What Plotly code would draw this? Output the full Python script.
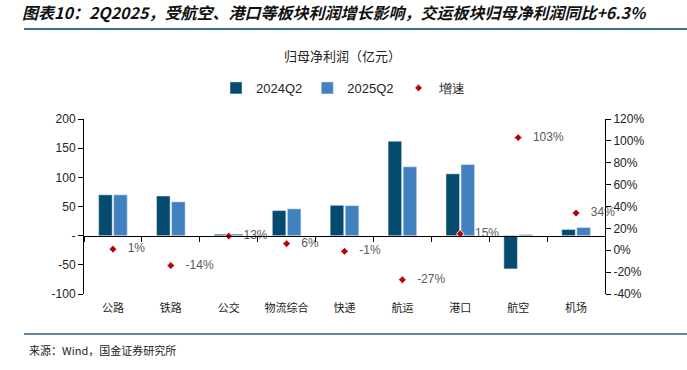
import plotly.graph_objects as go

categories = ["公路", "铁路", "公交", "物流综合", "快递", "航运", "港口", "航空", "机场"]
profit_2024q2 = [70, 68, 2.5, 43, 52, 162, 106, -57, 10.5]
profit_2025q2 = [70, 58, 2.8, 46, 51.5, 118, 122, 2, 14]
growth_pct = [1, -14, 13, 6, -1, -27, 15, 103, 34]
left_ticks = [-100, -50, 0, 50, 100, 150, 200]
left_ticktext = ["-100", "-50", "-", "50", "100", "150", "200"]
right_ticks = [-40, -20, 0, 20, 40, 60, 80, 100, 120]

W, H = 687, 370
L, R, T, B = 84, 605, 119, 294  # plot area pixels
def px_x(x):
    return (x - L) / (R - L)
def px_y(y):
    return (B - y) / (B - T)

C1 = "#054B70"
C2 = "#4281BF"
CJK = "Noto Sans CJK SC"
LAT = "Liberation Sans, Arial"

fig = go.Figure()
fig.add_trace(go.Bar(x=categories, y=profit_2024q2, name="2024Q2", marker_color=C1,
                     xaxis="x", yaxis="y"))
fig.add_trace(go.Bar(x=categories, y=profit_2025q2, name="2025Q2", marker_color=C2,
                     xaxis="x", yaxis="y"))
fig.add_trace(go.Scatter(x=categories, y=growth_pct, name="增速", mode="markers+text",
                         marker=dict(symbol="diamond", size=6, color="#C00000",
                                     line=dict(color="#E8ECF4", width=1)),
                         text=["   %d%%" % v for v in growth_pct],
                         textposition="middle right", cliponaxis=False,
                         textfont=dict(family=LAT, size=12, color="#595959"),
                         xaxis="x2", yaxis="y2"))

fig.update_layout(
    width=W, height=H,
    margin=dict(l=L, r=W - R, t=T, b=H - B, autoexpand=False),
    paper_bgcolor="white", plot_bgcolor="white",
    barmode="group", bargap=0.48, bargroupgap=0.1,
    showlegend=True,
    legend=dict(orientation="h", xref="container", yref="container",
                x=0.50, xanchor="center", y=1 - 88 / H, yanchor="middle",
                font=dict(family=LAT, size=13, color="#222"),
                itemwidth=30, traceorder="normal", tracegroupgap=0),
    title=dict(text="<b><i>图表10：2Q2025，受航空、港口等板块利润增长影响，交运板块归母净利润同比+6.3%</i></b>",
               xref="container", yref="container", x=22 / W, xanchor="left",
               y=1 - 13 / H, yanchor="middle",
               font=dict(family=CJK, size=16, color="#111")),
    xaxis=dict(type="category", categoryarray=categories, anchor="free", position=1 / 3,
               showline=True, linecolor="black", linewidth=1, ticks="outside",
               tickson="boundaries", ticklen=5, tickcolor="black",
               showticklabels=False, showgrid=False, zeroline=False),
    xaxis2=dict(type="category", categoryarray=categories, overlaying="x", anchor="y2",
                side="bottom", showline=False, ticks="", showgrid=False, zeroline=False,
                range=[-0.5, len(categories) - 0.5],
                tickfont=dict(family=CJK, size=11, color="#222"), ticklabelstandoff=6),
    yaxis=dict(range=[-100, 200], tickvals=left_ticks, ticktext=left_ticktext,
               showline=True, linecolor="black", linewidth=1, ticks="outside",
               ticklen=5, tickcolor="black", showgrid=False, zeroline=False,
               tickfont=dict(family=LAT, size=12, color="#222")),
    yaxis2=dict(range=[-40, 120], tickvals=right_ticks,
                ticktext=["%d%%" % v for v in right_ticks],
                overlaying="y", side="right", anchor="x",
                showline=True, linecolor="black", linewidth=1, ticks="outside",
                ticklen=5, tickcolor="black", showgrid=False, zeroline=False,
                tickfont=dict(family=LAT, size=12, color="#222")),
    shapes=[
        dict(type="line", xref="paper", yref="paper", x0=px_x(24), x1=px_x(687),
             y0=px_y(29), y1=px_y(29), line=dict(color="#3B6E8F", width=2)),
        dict(type="line", xref="paper", yref="paper", x0=px_x(24), x1=px_x(687),
             y0=px_y(334), y1=px_y(334), line=dict(color="#2F5F80", width=1.5)),
    ],
    annotations=[
        dict(text="归母净利润（亿元）", xref="paper", yref="paper", x=px_x(342), y=px_y(55),
             xanchor="center", yanchor="middle", showarrow=False,
             font=dict(family=CJK, size=13, color="#222")),
        dict(text="来源：Wind，国金证券研究所", xref="paper", yref="paper", x=px_x(27),
             y=px_y(350), xanchor="left", yanchor="middle", showarrow=False,
             font=dict(family=CJK, size=11, color="#222")),
    ],
)

fig.write_html("out.html", config={"displayModeBar": False},
               post_script="document.body.style.margin='0';document.body.style.overflow='hidden';")
